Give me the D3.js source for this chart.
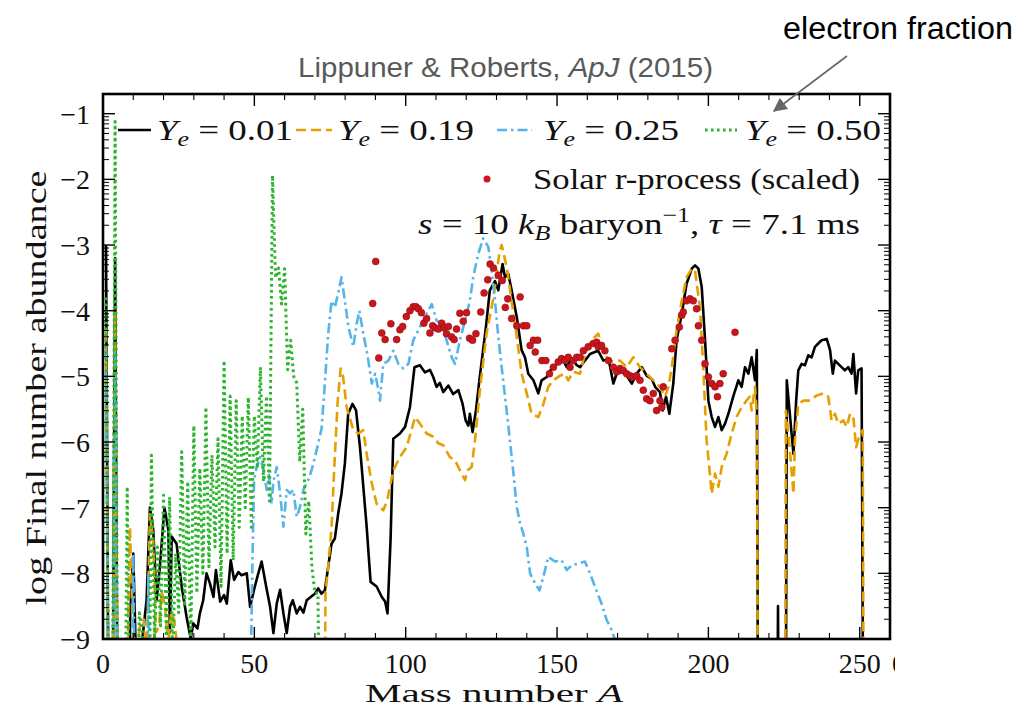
<!DOCTYPE html>
<html><head><meta charset="utf-8">
<script src="https://cdn.jsdelivr.net/npm/d3@7"></script>
<style>body{margin:0;background:#fff} svg{display:block}</style>
</head><body>
<script>
// ---- data: [mass number A, log10 abundance] (values below -9 are off-chart) ----
const ye001 = [[1,-3.0],[2,-12],[3,-12],[4,-3.2],[5,-12],[8,-12],[9,-8.6],[10,-7.7],[11,-9.5],[12,-9.3],[13,-9.0],[14.4,-8.41],[15.5,-7.0],[16.6,-7.34],[17.7,-8.41],[18.8,-7.9],[20.3,-7.0],[21.6,-7.34],[22.1,-8.9],[22.7,-7.44],[24.3,-7.55],[26,-8.2],[27.6,-8.66],[29,-9.0],[29.8,-8.76],[31.2,-8.84],[32,-8.61],[33.1,-8.41],[34.2,-8.0],[35.3,-8.15],[36.5,-8.36],[37.3,-7.95],[38.7,-8.43],[40,-8.33],[40.9,-8.46],[42.2,-7.8],[43.3,-8.1],[44.7,-7.98],[45.8,-8.03],[47.5,-8.0],[48.6,-8.51],[49.9,-8.25],[51.3,-8.0],[52.4,-7.82],[53.9,-8.2],[55.2,-8.51],[56.3,-8.91],[57.4,-8.46],[58.5,-8.25],[59.6,-8.61],[60.7,-8.91],[61.8,-8.51],[62.7,-8.41],[64,-8.61],[65.1,-8.51],[66.2,-8.6],[67.3,-8.41],[68.6,-8.36],[70,-8.31],[71.1,-8.23],[72.2,-8.31],[73.3,-8.26],[74.4,-7.9],[75.5,-7.55],[76.6,-7.47],[77.7,-7.09],[78.8,-6.78],[79.9,-6.33],[81,-5.57],[82.4,-5.42],[83.6,-5.52],[84.9,-6.08],[86,-6.68],[87.1,-7.29],[88.4,-8.13],[90.4,-8.2],[92.1,-8.36],[93.2,-8.43],[94,-8.61],[95,-7.49],[95.9,-5.95],[98.1,-5.87],[99.8,-5.77],[101.4,-5.47],[102.9,-4.86],[104.7,-4.83],[106.4,-4.94],[108,-4.9],[109.1,-5.01],[110.2,-5.16],[111.3,-5.1],[112.4,-5.24],[114.1,-5.14],[115.7,-5.27],[117.4,-5.21],[118.8,-5.42],[119.8,-5.67],[120.7,-5.75],[121.2,-5.57],[122.1,-5.85],[123.2,-5.52],[124.5,-5.0],[126.5,-4.25],[127.8,-3.69],[129.5,-3.55],[130.6,-3.69],[132,-3.29],[132.8,-3.49],[133.9,-3.44],[135,-3.69],[136.7,-4.1],[138.3,-4.6],[139.4,-4.71],[140.5,-4.96],[142.2,-5.06],[143.8,-5.26],[144.9,-5.06],[146.6,-5.01],[148.2,-4.88],[149.9,-4.81],[152.1,-4.76],[153.2,-4.86],[154.8,-4.73],[156.5,-4.83],[157.6,-4.86],[159.2,-4.76],[160.9,-4.66],[162.5,-4.63],[163.6,-4.61],[165.3,-4.76],[167,-4.73],[168.6,-5.11],[169.7,-4.96],[171.4,-4.93],[173,-4.99],[174.7,-5.11],[176.3,-4.96],[178,-4.86],[179.6,-4.99],[181.3,-5.04],[182.4,-5.16],[184,-5.24],[184.9,-5.52],[186,-5.31],[187.1,-5.57],[188.4,-5.11],[189.5,-4.45],[191.2,-4.05],[192.8,-3.59],[194.5,-3.36],[195.6,-3.31],[196.7,-3.36],[197.8,-3.64],[198.9,-4.45],[200,-5.37],[201.1,-5.62],[202.2,-5.77],[203.3,-5.62],[204.4,-5.82],[205.5,-5.72],[206.6,-5.57],[208.2,-5.31],[209.9,-5.06],[211,-5.16],[212.1,-4.86],[213.2,-4.96],[214.3,-4.71],[215.4,-5.06],[216,-4.6],[216.5,-12],[222.6,-12],[223,-8.5],[223.4,-12],[225.5,-12],[225.9,-5.06],[227,-5.62],[228.1,-6.18],[229,-5.37],[229.7,-4.91],[230.8,-4.81],[231.9,-4.83],[233,-4.68],[234.1,-4.71],[235.2,-4.55],[236.3,-4.5],[237.4,-4.45],[239.1,-4.43],[240.2,-4.6],[241.1,-4.96],[241.8,-4.76],[242.9,-4.81],[244,-4.86],[245.1,-4.91],[246.2,-4.86],[247.3,-4.96],[247.9,-4.66],[248.8,-5.26],[249.5,-4.91],[250.6,-4.88],[251.3,-12],[260,-12]];

const ye019 = [[1,-4.3],[2,-12],[3,-12],[4,-4.0],[5,-12],[7,-12],[8.9,-7.3],[10.2,-9.5],[12.2,-8.8],[13.5,-8.7],[14.5,-9.3],[15.5,-7.1],[16.6,-7.5],[17.5,-8.9],[18.5,-8.8],[19.5,-8.3],[20.5,-8.5],[21.5,-9.1],[22.5,-8.6],[23.5,-8.7],[24.5,-9.1],[25,-12],[73,-12],[73.5,-8.3],[74.4,-7.9],[75.5,-7.3],[76.5,-6.3],[77.5,-5.4],[78.5,-4.88],[79.3,-5.0],[80.5,-5.47],[82.7,-5.82],[84.4,-5.87],[86,-5.82],[87.1,-6.18],[88.8,-6.63],[90.4,-6.94],[92.6,-7.04],[93.9,-6.89],[95.9,-6.43],[98.1,-6.23],[100.3,-6.08],[103.1,-5.62],[104.7,-5.72],[106.9,-5.87],[109.1,-5.92],[110.8,-6.02],[112.4,-6.05],[114.6,-6.23],[116.3,-6.28],[117.9,-6.43],[119.6,-6.58],[120.5,-6.43],[121.8,-6.38],[122.9,-5.97],[124.5,-5.21],[126.7,-4.35],[129,-3.8],[131,-3.1],[131.7,-3.0],[133.4,-3.34],[135,-3.85],[136.7,-4.4],[138.3,-4.96],[140,-5.26],[141.6,-5.57],[143.8,-5.62],[145.5,-5.42],[147.1,-5.16],[148.8,-5.06],[151,-4.99],[152.6,-4.96],[153.7,-5.06],[155.4,-4.93],[157.6,-4.96],[159.2,-4.66],[160.9,-4.5],[162.5,-4.4],[163.6,-4.35],[165.3,-4.6],[167,-4.76],[168.6,-4.78],[170.8,-4.76],[173,-4.86],[175.2,-4.71],[177.4,-4.86],[179.6,-4.96],[181.8,-5.06],[184,-5.16],[185.7,-5.31],[186.8,-5.16],[187.9,-4.86],[189.5,-4.3],[191.2,-3.85],[192.8,-3.49],[194.5,-3.36],[195.6,-3.39],[197.2,-3.95],[198.3,-4.86],[199.4,-5.97],[200.5,-6.48],[201.1,-6.79],[202.2,-6.48],[203.3,-6.68],[204.4,-6.38],[206,-6.18],[207.7,-5.87],[209.3,-5.62],[211,-5.47],[212.6,-5.37],[213.7,-5.31],[214.3,-5.52],[215.4,-5.16],[216,-5.57],[216.5,-12],[225.3,-12],[225.6,-5.52],[226.4,-5.87],[227.2,-6.28],[228.1,-6.79],[228.6,-5.97],[229.7,-5.42],[231.4,-5.37],[233.6,-5.37],[235.8,-5.29],[238,-5.26],[239.6,-5.31],[240.7,-5.67],[241.8,-5.57],[242.9,-5.72],[244.6,-5.67],[245.7,-5.77],[246.8,-5.57],[247.9,-5.62],[248.8,-6.08],[250.1,-5.87],[251,-5.82],[251.4,-12],[260,-12]];

const ye025 = [[1,-4.6],[2,-12],[3,-12],[4,-4.6],[5,-12],[9,-12],[10,-7.7],[11,-12],[14,-12],[15,-8.0],[16,-12],[48,-12],[49.3,-8.0],[49.9,-6.58],[50.8,-6.38],[51.9,-6.23],[53,-6.43],[54.1,-6.73],[54.8,-6.5],[55.7,-6.94],[56.3,-6.6],[57.4,-6.38],[58.5,-6.78],[59.6,-7.29],[60.7,-6.73],[61.8,-6.78],[62.9,-6.73],[64,-7.14],[65.1,-6.99],[66.2,-6.73],[67.8,-6.58],[68.9,-6.43],[70.6,-6.12],[72.2,-5.8],[73.3,-5.1],[74.4,-4.35],[75.5,-3.85],[76.6,-3.95],[77.7,-3.74],[78.8,-3.49],[79.9,-3.85],[81.1,-4.25],[82.7,-4.55],[83.8,-4.2],[84.7,-4.0],[86,-4.35],[87.1,-4.61],[88,-4.86],[88.8,-5.11],[89.9,-4.96],[91,-5.21],[91.5,-5.37],[92.6,-4.81],[94.3,-4.76],[95.9,-4.61],[97.6,-4.81],[99.2,-4.88],[100.9,-4.81],[102.5,-4.45],[104.7,-4.25],[106.9,-4.05],[108.6,-3.9],[110.2,-4.15],[111.9,-4.2],[113.5,-4.45],[115.2,-4.71],[116.3,-4.81],[117.9,-4.45],[119.6,-4.15],[121.2,-3.85],[122.3,-3.49],[124,-3.13],[125.6,-2.9],[127.3,-3.03],[128.4,-3.39],[129.5,-3.85],[130.6,-4.4],[132.3,-5.1],[133.9,-5.75],[135.6,-6.48],[136.7,-6.99],[137.8,-7.24],[138.9,-7.4],[140,-7.6],[141.1,-8.0],[142.7,-8.15],[144.2,-8.26],[145.5,-8.05],[147.1,-7.75],[149.3,-7.82],[151.5,-7.8],[153.2,-7.95],[154.8,-7.88],[157,-7.85],[159.2,-7.82],[160.9,-8.0],[162.5,-8.2],[164.7,-8.46],[166.4,-8.71],[168,-8.86],[169.2,-9.02],[172,-10]];

const ye050 = [[1,-3.8],[2,-12],[3,-12],[4,-1.12],[5,-12],[7,-12],[8,-6.68],[9,-12],[11,-12],[12,-8.6],[13,-8.9],[14,-12],[15,-12],[16,-6.2],[17,-9.0],[18,-7.6],[19,-8.8],[20,-6.81],[21,-9.1],[22,-6.84],[23,-9.3],[24,-7.7],[25,-8.6],[26,-6.15],[27,-8.5],[28,-6.6],[29,-9.2],[30,-5.75],[31,-8.3],[32,-6.4],[33,-8.0],[34,-5.47],[35,-7.9],[36,-6.2],[37,-7.6],[38,-5.95],[39,-8.2],[40,-4.76],[41,-7.7],[42,-5.3],[43,-7.8],[44,-5.37],[45,-7.3],[46,-5.6],[47,-7.0],[48,-5.32],[49,-7.3],[50,-5.6],[51,-6.4],[52,-4.86],[53,-6.6],[54,-5.3],[55,-6.9],[56,-1.94],[57,-3.5],[58,-3.35],[59,-3.9],[60,-3.36],[61,-4.9],[62,-4.45],[63,-5.0],[64,-5.1],[65,-6.3],[66,-5.5],[67,-7.4],[68,-6.9],[69,-7.9],[70,-8.3],[71,-8.3],[72,-12]];

const solar = [[89.1,-3.89],[90.1,-3.25],[91.1,-4.72],[92.1,-4.34],[93.2,-4.44],[95.1,-4.2],[97,-4.44],[98.1,-4.29],[99,-4.24],[100.2,-4.09],[101.4,-4.0],[102.5,-3.94],[103.4,-3.94],[104.2,-3.97],[105.2,-4.03],[106,-4.19],[106.9,-4.12],[108,-4.34],[108.9,-4.23],[109.7,-4.26],[110.8,-4.28],[111.9,-4.19],[112.7,-4.26],[113.5,-4.35],[114.1,-4.24],[115.2,-4.4],[116,-4.44],[116.8,-4.28],[117.9,-4.04],[119,-4.16],[120.1,-4.03],[121.1,-4.42],[122.1,-4.45],[123.2,-4.35],[124.8,-4.02],[125.9,-3.73],[127.1,-3.53],[127.9,-3.29],[129,-3.35],[130.6,-3.46],[131.9,-3.54],[132.9,-3.95],[133.7,-3.82],[135,-4.12],[136.7,-4.23],[137.8,-3.79],[138.9,-4.23],[140,-4.23],[141.1,-4.53],[142.2,-4.45],[142.8,-4.63],[143.6,-4.45],[145,-4.76],[146.3,-4.76],[147.5,-4.96],[148.8,-4.86],[150.4,-4.78],[151.5,-4.73],[152.6,-4.76],[153.7,-4.71],[154.3,-4.86],[155.4,-4.76],[156.5,-4.71],[157.6,-4.71],[158.7,-4.61],[160.3,-4.55],[162,-4.5],[163.1,-4.48],[163.6,-4.55],[164.7,-4.53],[165.8,-4.61],[167,-4.76],[168.6,-4.86],[169.7,-4.93],[170.8,-4.88],[171.9,-4.91],[173,-4.96],[174.1,-4.99],[175.2,-5.01],[176.3,-4.99],[177.4,-5.06],[178.5,-5.21],[179.6,-5.34],[180.7,-5.37],[181.8,-5.26],[182.9,-5.52],[184,-5.37],[184.6,-5.47],[185.1,-5.16],[187.9,-4.58],[189,-4.45],[190.4,-4.25],[191.2,-4.07],[191.7,-4.02],[192.8,-3.85],[193.9,-3.82],[195,-3.85],[196.1,-3.97],[196.7,-4.23],[197.8,-4.45],[198.9,-4.81],[200,-5.01],[201.1,-5.11],[202.2,-5.16],[203,-5.31],[203.8,-5.11],[204.9,-4.96],[208.8,-4.33]];

const xTickLabels = ["0","50","100","150","200","250"];
const yTickValues = [-9,-8,-7,-6,-5,-4,-3,-2,-1];
const legendLabels = ["0.01","0.19","0.25","0.50"];

// ---- drawing ----
const W = 1031, H = 710;
const L = 103, R = 890, T = 94, B = 639;
const serif = "'Liberation Serif','DejaVu Serif',serif";
const sans = "'Liberation Sans',Arial,sans-serif";

const svg = d3.select("body").append("svg").attr("width", W).attr("height", H)
  .style("background", "#fff");

const x = d3.scaleLinear().domain([0, 260]).range([L, R]);
const y = d3.scaleLinear().domain([-9, -0.7]).range([B, T]);

const defs = svg.append("defs");
defs.append("clipPath").attr("id", "clip")
  .append("rect").attr("x", L).attr("y", T).attr("width", R - L).attr("height", B - T);
defs.append("clipPath").attr("id", "clipR")
  .append("rect").attr("x", 0).attr("y", 0).attr("width", 895).attr("height", H);

const line = d3.line().x(d => x(d[0])).y(d => y(d[1]));
const plot = svg.append("g").attr("clip-path", "url(#clip)");

const series = [
  {data: ye001, color: "#000000", dash: null, w: 2.6},
  {data: ye019, color: "#E69F00", dash: "10,5", w: 2.6},
  {data: ye025, color: "#56B4E9", dash: "10,4,2.5,4", w: 2.6},
  {data: ye050, color: "#2DB52D", dash: "2.6,3.4", w: 3}
];
series.forEach(s => {
  plot.append("path").datum(s.data).attr("d", line)
    .attr("fill", "none").attr("stroke", s.color).attr("stroke-width", s.w)
    .attr("stroke-dasharray", s.dash).attr("stroke-linejoin", "round");
});

plot.selectAll("circle.sol").data(solar).join("circle").attr("class", "sol")
  .attr("cx", d => x(d[0])).attr("cy", d => y(d[1])).attr("r", 3.5)
  .attr("fill", "#C8161D").attr("stroke", "#8a0c10").attr("stroke-width", 0.5);

// ---- axes frame & ticks ----
const ax = svg.append("g").attr("stroke", "#000");
const xMajor = d3.range(0, 261, 50), xMinor = d3.range(0, 261, 10).filter(v => v % 50 !== 0);
const yMajor = yTickValues;
const yMinor = [];
for (let d = -9; d < -0.7; d++) for (let k = 2; k <= 9; k++) { const v = d + Math.log10(k); if (v <= -0.7) yMinor.push(v); }

const ML = 12, mL = 6;
xMajor.forEach(v => {
  ax.append("line").attr("x1", x(v)).attr("x2", x(v)).attr("y1", B).attr("y2", B - ML).attr("stroke-width", 1.4);
  ax.append("line").attr("x1", x(v)).attr("x2", x(v)).attr("y1", T).attr("y2", T + ML).attr("stroke-width", 1.4);
});
xMinor.forEach(v => {
  ax.append("line").attr("x1", x(v)).attr("x2", x(v)).attr("y1", B).attr("y2", B - mL).attr("stroke-width", 1.1);
  ax.append("line").attr("x1", x(v)).attr("x2", x(v)).attr("y1", T).attr("y2", T + mL).attr("stroke-width", 1.1);
});
yMajor.forEach(v => {
  ax.append("line").attr("x1", L).attr("x2", L + ML).attr("y1", y(v)).attr("y2", y(v)).attr("stroke-width", 1.4);
  ax.append("line").attr("x1", R).attr("x2", R - ML).attr("y1", y(v)).attr("y2", y(v)).attr("stroke-width", 1.4);
});
yMinor.forEach(v => {
  ax.append("line").attr("x1", L).attr("x2", L + mL).attr("y1", y(v)).attr("y2", y(v)).attr("stroke-width", 1);
  ax.append("line").attr("x1", R).attr("x2", R - mL).attr("y1", y(v)).attr("y2", y(v)).attr("stroke-width", 1);
});
ax.append("rect").attr("x", L).attr("y", T).attr("width", R - L).attr("height", B - T)
  .attr("fill", "none").attr("stroke-width", 2.6);

// tick labels
const tl = svg.append("g").attr("font-family", serif).attr("font-size", 28).attr("fill", "#111");
xMajor.forEach((v, i) => {
  tl.append("text").attr("x", x(v)).attr("y", 673).attr("text-anchor", "middle").text(xTickLabels[i]);
});
tl.append("text").attr("x", 899).attr("y", 673).attr("text-anchor", "middle")
  .attr("clip-path", "url(#clipR)").text("0");
yMajor.forEach(v => {
  tl.append("text").attr("x", 90).attr("y", y(v) + 10).attr("text-anchor", "end").text("\u2212" + Math.abs(v));
});

// axis labels
svg.append("text").attr("font-family", serif).attr("font-size", 26).attr("fill", "#111")
  .attr("x", 365).attr("y", 702).attr("textLength", 258).attr("lengthAdjust", "spacingAndGlyphs")
  .call(t => { t.append("tspan").text("Mass number "); t.append("tspan").attr("font-style", "italic").text("A"); });
svg.append("text").attr("font-family", serif).attr("font-size", 30).attr("fill", "#111")
  .attr("transform", "translate(46,388) rotate(-90)").attr("text-anchor", "middle")
  .attr("textLength", 435).attr("lengthAdjust", "spacingAndGlyphs")
  .text("log Final number abundance");

// ---- legend ----
const lg = svg.append("g").attr("font-family", serif).attr("font-size", 30).attr("fill", "#111");
const legX = [[118, 151, 157], [296, 332, 338], [497, 532, 543], [705, 737, 745]];
series.forEach((s, i) => {
  const [a, b, tx] = legX[i];
  lg.append("line").attr("x1", a).attr("x2", b).attr("y1", 130).attr("y2", 130)
    .attr("stroke", s.color).attr("stroke-width", s.w).attr("stroke-dasharray", s.dash);
  const t = lg.append("text").attr("x", tx).attr("y", 140)
    .attr("textLength", 136).attr("lengthAdjust", "spacingAndGlyphs");
  t.append("tspan").attr("font-style", "italic").text("Y");
  t.append("tspan").attr("font-style", "italic").attr("font-size", 21).attr("dy", 6).text("e");
  t.append("tspan").attr("dy", -6).text(" = ");
  t.append("tspan").text(legendLabels[i]);
});
lg.append("circle").attr("cx", 487).attr("cy", 179).attr("r", 3.5).attr("fill", "#C8161D");
lg.append("text").attr("x", 533).attr("y", 189).attr("textLength", 327).attr("lengthAdjust", "spacingAndGlyphs")
  .text("Solar r-process (scaled)");
const t3 = lg.append("text").attr("x", 418).attr("y", 234)
  .attr("textLength", 442).attr("lengthAdjust", "spacingAndGlyphs");
t3.append("tspan").attr("font-style", "italic").text("s");
t3.append("tspan").text(" = 10 ");
t3.append("tspan").attr("font-style", "italic").text("k");
t3.append("tspan").attr("font-style", "italic").attr("font-size", 21).attr("dy", 6).text("B");
t3.append("tspan").attr("dy", -6).text(" baryon");
t3.append("tspan").attr("font-size", 21).attr("dy", -12).text("\u22121");
t3.append("tspan").attr("dy", 12).text(", ");
t3.append("tspan").attr("font-style", "italic").text("\u03C4");
t3.append("tspan").text(" = 7.1 ms");

// ---- title & annotation ----
svg.append("text").attr("font-family", sans).attr("font-size", 28).attr("fill", "#595959")
  .attr("x", 298).attr("y", 77).attr("textLength", 415).attr("lengthAdjust", "spacingAndGlyphs")
  .call(t => {
    t.append("tspan").text("Lippuner & Roberts, ");
    t.append("tspan").attr("font-style", "italic").text("ApJ");
    t.append("tspan").text(" (2015)");
  });
svg.append("text").attr("font-family", sans).attr("font-size", 31).attr("fill", "#000")
  .attr("x", 783).attr("y", 39).attr("textLength", 230).attr("lengthAdjust", "spacingAndGlyphs")
  .text("electron fraction");

defs.append("marker").attr("id", "arr").attr("viewBox", "0 0 10 10")
  .attr("refX", 9).attr("refY", 5).attr("markerWidth", 14).attr("markerHeight", 14)
  .attr("markerUnits", "userSpaceOnUse").attr("orient", "auto")
  .append("path").attr("d", "M0,0 L10,5 L0,10 z").attr("fill", "#666");
svg.append("line").attr("x1", 847).attr("y1", 56).attr("x2", 774).attr("y2", 111)
  .attr("stroke", "#666").attr("stroke-width", 1.6).attr("marker-end", "url(#arr)");
</script>
</body></html>
